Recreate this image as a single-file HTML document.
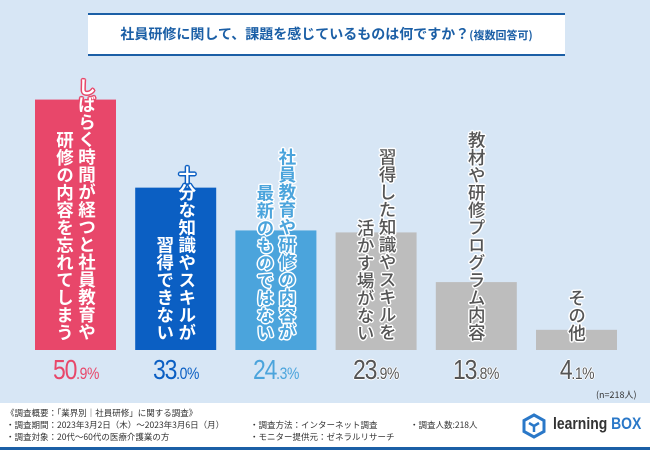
<!DOCTYPE html>
<html><head><meta charset="utf-8">
<style>
*{margin:0;padding:0;box-sizing:border-box}
body{width:650px;height:450px;overflow:hidden;background:#fff;font-family:"Liberation Sans","Noto Sans CJK JP",sans-serif;position:relative}
#bg{position:absolute;left:0;top:0;width:650px;height:403px;background:#d7e6f5}
#title{position:absolute;left:88px;top:13px;width:477px;height:43px;background:#fff;border-top:2px solid #1b5fa6;border-bottom:2px solid #1b5fa6;color:#1b5fa6;font-weight:bold;font-size:14px;text-align:center;line-height:39px;font-family:"Noto Sans CJK JP",sans-serif}
#title small{font-size:11px}
.lab{position:absolute;writing-mode:vertical-rl;font-family:"Noto Sans CJK JP",sans-serif;font-weight:bold;font-size:17.5px;line-height:1;white-space:nowrap;width:18px}
.pct{position:absolute;top:354px;width:100px;text-align:center;font-family:"Liberation Sans",sans-serif;font-size:28px;letter-spacing:-1.5px;transform:scaleX(0.82)}
.pct span{font-size:17px;letter-spacing:-0.5px}
.foot{position:absolute;font-family:"Noto Sans CJK JP",sans-serif;font-size:8.5px;color:#333;white-space:nowrap}
</style></head><body>
<div id="bg"></div>
<div id="title">社員研修に関して、課題を感じているものは何ですか？<small>(複数回答可)</small></div>
<svg id="chart" width="650" height="403" style="position:absolute;left:0;top:0"></svg>
<div id="labels"></div>
<div class="foot" style="left:596px;top:388px;font-size:9px">(n=218人)</div>
<div class="foot" style="left:6px;top:407px">《調査概要：「業界別｜社員研修」に関する調査》</div>
<div class="foot" style="left:6px;top:419px">・調査期間：2023年3月2日（木）～2023年3月6日（月）</div>
<div class="foot" style="left:6px;top:431px">・調査対象：20代～60代の医療介護業の方</div>
<div class="foot" style="left:250px;top:419px">・調査方法：インターネット調査</div>
<div class="foot" style="left:250px;top:431px">・モニター提供元：ゼネラルリサーチ</div>
<div class="foot" style="left:410px;top:419px">・調査人数:218人</div>
<svg style="position:absolute;left:522px;top:413px" width="24" height="26"><path d="M12 2 L22 7.5 L22 18.5 L12 24 L2 18.5 L2 7.5 Z" fill="none" stroke="#2a78c8" stroke-width="3"/><path d="M7 10 L12 13 L17 10 M12 13 L12 19" fill="none" stroke="#2a78c8" stroke-width="2.5"/></svg>
<div class="foot" style="left:553px;top:414px;font-family:'Liberation Sans',sans-serif;font-weight:bold;font-size:17px;color:#333;transform:scaleX(0.82);transform-origin:left top">learning <span style="color:#2a78c8">BOX</span></div>
<div style="position:absolute;left:0;top:447px;width:650px;height:3px;background:#1b5fa6"></div>
<script>
const categories=["しばらく時間が経つと社員教育や|研修の内容を忘れてしまう","十分な知識やスキルが|習得できない","社員教育や研修の内容が|最新のものではない","習得した知識やスキルを|活かす場がない","教材や研修プログラム内容","その他"];
const values=[50.9,33.0,24.3,23.9,13.8,4.1];
const colors=["#e8476a","#0b5fc3","#4ba4dc","#bdbdbd","#bdbdbd","#bdbdbd"];
const baseY=350, scale=4.92, x0=35, step=100.2, bw=81;
const yPos=v=>baseY-v*scale;
const xPos=i=>x0+i*step;
const svg=document.getElementById('chart');
const ns="http://www.w3.org/2000/svg";
const lab=document.getElementById('labels');
values.forEach((v,i)=>{
  const r=document.createElementNS(ns,'rect');
  r.setAttribute('x',xPos(i));r.setAttribute('y',yPos(v));
  r.setAttribute('width',bw);r.setAttribute('height',baseY-yPos(v));
  r.setAttribute('fill',colors[i]);
  
  
  svg.appendChild(r);
  const cols=categories[i].split('|');
  const cx=xPos(i)+bw/2;
  let fill,stroke;
  if(i<2){fill='#fff';stroke=colors[i];}else if(i==2){fill=colors[i];stroke='#fff';}else{fill='#555';stroke='#fff';}
  const sh=`-1.5px 0 ${stroke},1.5px 0 ${stroke},0 -1.5px ${stroke},0 1.5px ${stroke},-1px -1px ${stroke},1px 1px ${stroke},-1px 1px ${stroke},1px -1px ${stroke}`;
  const off=cols.length==2?11:0;
  cols.forEach((t,j)=>{
    const d=document.createElement('div');
    d.className='lab';
    d.textContent=t;
    d.style.color=fill;d.style.textShadow=sh;
    if(i>=3)d.style.fontWeight='500';
    const h=t.length*17.6;
    d.style.top=(342-h)+'px';
    d.style.left=(cx+(j==0?off:-off)-9)+'px';
    
    
    lab.appendChild(d);
  });
  const p=document.createElement('div');
  p.className='pct';
  const s=v.toFixed(1).split('.');
  p.innerHTML=s[0]+'<span>.'+s[1]+'%</span>';
  p.style.left=(cx-50)+'px';
  p.style.color=i<3?colors[i]:'#555';
  if(i>=3)p.style.textShadow='-1px 0 #fff,1px 0 #fff,0 -1px #fff,0 1px #fff';
  
  
  lab.appendChild(p);
});
</script>
</body></html>
